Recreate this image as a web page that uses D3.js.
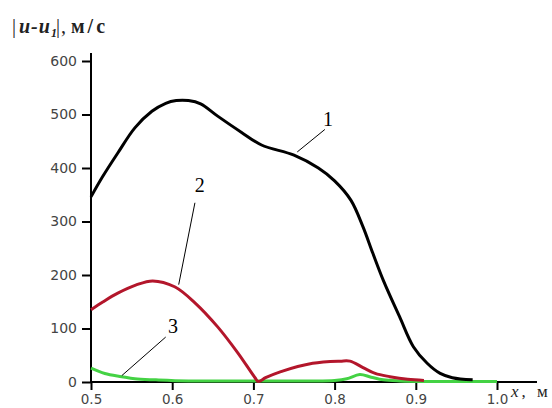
<!DOCTYPE html>
<html><head><meta charset="utf-8">
<script src="https://cdn.jsdelivr.net/npm/d3@7"></script>
<style>body{margin:0;background:#fff}</style>
</head><body>
<svg id="c" width="552" height="408"></svg>
<script>
const xTicks = [0.5, 0.6, 0.7, 0.8, 0.9, 1.0];
const xTickLabels = ["0.5", "0.6", "0.7", "0.8", "0.9", "1.0"];
const yTicks = [0, 100, 200, 300, 400, 500, 600];

const x1 = [0.5,0.514,0.533,0.554,0.575,0.592,0.605,0.62,0.635,0.656,0.685,0.71,0.75,0.78,0.8,0.82,0.835,0.847,0.86,0.88,0.897,0.914,0.93,0.945,0.97];
const v1 = [346,383,428,475,506,521,526,526,520,497,467,443,424,400,376,340,290,241,190,122,66,35,16,8,4];

const x2 = [0.5,0.515,0.533,0.555,0.576,0.603,0.628,0.656,0.681,0.702,0.706,0.715,0.733,0.773,0.807,0.819,0.835,0.85,0.868,0.89,0.91];
const v2 = [135,150,166,181,189,178,148,103,54,8,1,8,19,35,39,39,27,16,10,5,3];

const x3 = [0.5,0.517,0.538,0.554,0.58,0.62,0.7,0.77,0.8,0.815,0.831,0.845,0.86,0.88,0.92,1.0];
const v3 = [26,16,10,6,4,2,2,2,3,6,14,9,4,2,1,1];

const seriesColors = ["#000000", "#b3162b", "#44d244"];

const svg = d3.select("#c");
const x = d3.scaleLinear().domain([0.5, 1.0]).range([91, 497]);
const y = d3.scaleLinear().domain([0, 600]).range([382, 61]);

const tickFont = "Tahoma, 'DejaVu Sans', sans-serif";
const serif = "'Liberation Serif', 'Times New Roman', serif";
// axes
const xAxis = d3.axisBottom(x).tickValues(xTicks).tickFormat((d,i)=>xTickLabels[i]).tickSize(8).tickSizeOuter(0);
const gx = svg.append("g").attr("transform","translate(0,382)").call(xAxis);
gx.select(".domain").remove();
gx.append("line").attr("x1",91).attr("x2",537).attr("y1",0).attr("y2",0).attr("stroke","#000").attr("stroke-width",2);
gx.selectAll(".tick line").attr("stroke","#000").attr("stroke-width",2);
gx.selectAll(".tick text").attr("font-family",tickFont).attr("font-size",13.5).attr("fill","#444").attr("y",12);

const yAxis = d3.axisLeft(y).tickValues(yTicks).tickSize(9).tickSizeOuter(0);
const gy = svg.append("g").attr("transform","translate(91,0)").call(yAxis);
gy.select(".domain").remove();
gy.append("line").attr("x1",0).attr("x2",0).attr("y1",382).attr("y2",53).attr("stroke","#000").attr("stroke-width",2);
gy.selectAll(".tick line").attr("stroke","#000").attr("stroke-width",2);
gy.selectAll(".tick text").attr("font-family",tickFont).attr("font-size",14).attr("fill","#444").attr("x",-14);

// lines
const line = d3.line().x(d=>x(d[0])).y(d=>y(d[1])).curve(d3.curveCatmullRom.alpha(0.5));
const series = [[x1,v1],[x2,v2],[x3,v3]];
[2,1,0].forEach(i=>{
  const [xs,vs] = series[i];
  svg.append("path").datum(xs.map((d,j)=>[d,vs[j]]))
    .attr("d",line).attr("fill","none").attr("stroke",seriesColors[i])
    .attr("stroke-width",3).attr("stroke-linejoin","round");
});

// annotations
const labels = [
  {t:"1", lx:0.792, lv:478, ax:0.788, av:472, bx:0.754, bv:430},
  {t:"2", lx:0.634, lv:355, ax:0.628, av:335, bx:0.608, bv:182},
  {t:"3", lx:0.601, lv:92, ax:0.592, av:84, bx:0.538, bv:12}
];
labels.forEach(l=>{
  svg.append("line").attr("x1",x(l.ax)).attr("y1",y(l.av)).attr("x2",x(l.bx)).attr("y2",y(l.bv))
    .attr("stroke","#000").attr("stroke-width",1);
  svg.append("text").attr("x",x(l.lx)).attr("y",y(l.lv)).attr("text-anchor","middle")
    .attr("font-family",serif).attr("font-size",20).text(l.t);
});

// y title
const yt = svg.append("text").attr("x",12).attr("y",33).attr("font-family",serif).attr("font-size",20).attr("fill","#222");
yt.append("tspan").attr("font-weight","normal").text("|");
yt.append("tspan").attr("x",19).attr("font-style","italic").attr("font-weight","bold").attr("letter-spacing",1).text("u-u");
yt.append("tspan").attr("font-style","italic").attr("font-weight","bold").attr("font-size",12).attr("dy",4).text("1");
yt.append("tspan").attr("x",56).attr("dy",-4).text("|");
yt.append("tspan").attr("x",61).text(",");
yt.append("tspan").attr("x",71).attr("font-weight","bold").attr("letter-spacing",3).text("м/с");

// x title
const xt = svg.append("text").attr("x",511).attr("y",397).attr("font-family",serif).attr("font-size",17).attr("fill","#222");
xt.append("tspan").attr("font-style","italic").text("x");
xt.append("tspan").attr("dx",3).text(",");
xt.append("tspan").attr("x",537).text("м");
</script>
</body></html>
